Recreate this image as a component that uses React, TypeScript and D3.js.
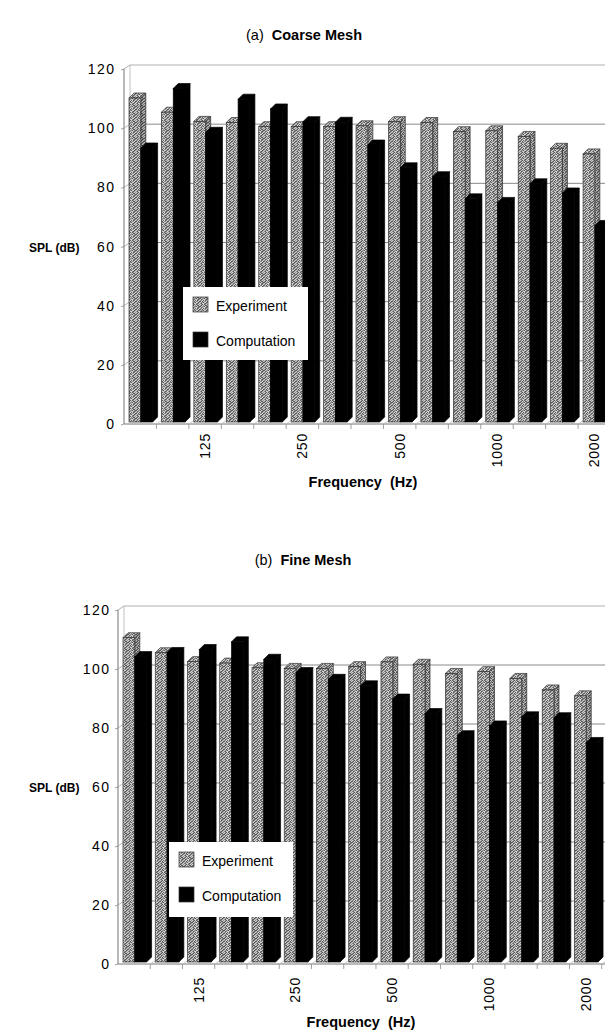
import React from "react";
import * as d3 from "d3";

// 1/3-octave band centre frequencies (Hz)
const categories = ["80", "100", "125", "160", "200", "250", "315", "400", "500", "630", "800", "1000", "1250", "1600", "2000"];
const shownTickLabels = ["125", "250", "500", "1000", "2000"];
const yTicks = [0, 20, 40, 60, 80, 100, 120];
const seriesNames = ["Experiment", "Computation"];

// (a) Coarse mesh, SPL (dB)
const coarseExperiment = [110.2, 105.4, 102.3, 101.9, 100.5, 100.5, 100.5, 100.8, 102.2, 101.9, 98.8, 99.1, 97.2, 93.2, 91.3];
const coarseComputation = [93.3, 113.4, 98.6, 109.8, 106.5, 102.2, 102.0, 94.3, 86.6, 83.6, 76.1, 74.9, 81.2, 78.1, 67.1];

// (b) Fine mesh, SPL (dB)
const fineExperiment = [110.6, 105.5, 102.5, 102.0, 100.4, 100.2, 100.2, 100.8, 102.4, 101.6, 98.5, 99.1, 96.8, 92.9, 90.9];
const fineComputation = [104.2, 105.6, 106.6, 109.2, 103.3, 98.8, 96.5, 94.3, 89.8, 84.9, 77.4, 80.7, 83.8, 83.5, 75.1];

const FONT = "'Liberation Sans', Arial, Helvetica, sans-serif";

// fixed stipple tile for the "Experiment" texture
const TILE = ["01202101", "12010220", "20112012", "02100121", "11020210", "20201102", "01120021", "12001210"];
const TILE_COLORS = ["#d2d2d2", "#8e8e8e", "#575757"];

function Stipple({ id }: { id: string }) {
  return (
    <pattern id={id} patternUnits="userSpaceOnUse" width={8} height={8}>
      {TILE.map((row, r) =>
        row.split("").map((c, k) => (
          <rect key={r + "-" + k} x={k} y={r} width={1} height={1} fill={TILE_COLORS[+c]} />
        ))
      )}
    </pattern>
  );
}

type ChartProps = {
  tag: string;
  name: string;
  exp: number[];
  comp: number[];
  xRange: [number, number];
  yRange: [number, number];
  titleY: number;
  titleX: number;
  tickRight: number;
  splY: number;
  freqX: number;
  freqY: number;
  tickLabelY: number;
  legend: { x: number; y: number; w: number; h: number };
  plotRight: number;
};

function Chart(p: ChartProps) {
  const x = d3.scaleBand<string>().domain(categories).range(p.xRange).paddingInner(0).paddingOuter(0);
  const y = d3.scaleLinear().domain([0, 120]).range(p.yRange);
  const bw = x.bandwidth();
  const DX = 6; // wall depth
  const DY = 4;
  const bdx = 5; // bar depth
  const bdy = 5;
  const barW = 11.8;
  const barOff = 5;
  const left = p.xRange[0];
  const floorY = y(0);
  const barBottom = floorY - 2;

  const bar = (xs: number, v: number, fill: string, stroke: string, key: string, side?: string) => {
    const top = y(v);
    const topFace = `M${xs},${top}L${xs + bdx},${top - bdy}L${xs + barW + bdx},${top - bdy}L${xs + barW},${top}Z`;
    const sideFace = `M${xs + barW},${top}L${xs + barW + bdx},${top - bdy}L${xs + barW + bdx},${barBottom - bdy}L${xs + barW},${barBottom}Z`;
    return (
      <g key={key}>
        <path d={sideFace} fill={fill} stroke={stroke} strokeWidth={0.7} />
        {side && <path d={sideFace} fill={side} />}
        <path d={topFace} fill={fill} stroke={stroke} strokeWidth={0.7} />
        <rect x={xs} y={top} width={barW} height={barBottom - top} fill={fill} stroke={stroke} strokeWidth={0.7} />
      </g>
    );
  };

  return (
    <g>
      {/* title */}
      <text x={p.titleX} y={p.titleY} textAnchor="middle" fontFamily={FONT} fontSize={14.5}>
        <tspan>{p.tag}</tspan>
        <tspan dx={8} fontWeight="bold">{p.name}</tspan>
      </text>

      {/* back wall & left wall frame */}
      <line x1={left + DX} y1={y(120) - DY} x2={p.plotRight} y2={y(120) - DY} stroke="#b0b0b0" strokeWidth={1} />
      <line x1={left + DX} y1={y(120) - DY} x2={left + DX} y2={floorY - DY} stroke="#c0c0c0" strokeWidth={1} />
      {yTicks.filter((t) => t > 0 && t < 120).map((t) => (
        <g key={"g" + t}>
          <line x1={left} y1={y(t)} x2={left + DX} y2={y(t) - DY} stroke="#aaa" strokeWidth={0.8} />
          <line x1={left + DX} y1={y(t) - DY} x2={p.plotRight} y2={y(t) - DY} stroke="#8a8a8a" strokeWidth={1} />
        </g>
      ))}
      <line x1={left} y1={y(120)} x2={left + DX} y2={y(120) - DY} stroke="#999" strokeWidth={0.8} />

      {/* front value axis */}
      <line x1={left} y1={y(120)} x2={left} y2={floorY} stroke="#8a8a8a" strokeWidth={1.2} />
      {yTicks.map((t) => (
        <g key={"t" + t}>
          <line x1={left - 3} y1={y(t) + 1} x2={left} y2={y(t)} stroke="#888" strokeWidth={0.8} />
          <text x={p.tickRight} y={y(t) + 5} textAnchor="end" fontFamily={FONT} fontSize={14} letterSpacing={1.5}>
            {t}
          </text>
        </g>
      ))}

      {/* floor */}
      <line x1={left} y1={floorY} x2={p.plotRight} y2={floorY} stroke="#777" strokeWidth={1} />
      {categories.map((c) => {
        const xe = (x(c) as number) + bw;
        return (
          <g key={"f" + c}>
            <line x1={xe} y1={floorY} x2={xe} y2={floorY + 5} stroke="#888" strokeWidth={0.8} />
            <line x1={xe} y1={floorY} x2={xe + DX} y2={floorY - DY} stroke="#bbb" strokeWidth={0.8} />
          </g>
        );
      })}

      {/* bars */}
      {categories.map((c, i) => {
        const x0 = (x(c) as number) + barOff;
        return (
          <g key={"b" + c}>
            {bar(x0, p.exp[i], "url(#stip)", "#333", "e", "rgba(0,0,0,0.12)")}
            {bar(x0 + barW, p.comp[i], "#000", "#000", "c")}
          </g>
        );
      })}

      {/* category labels */}
      {categories.map((c) =>
        shownTickLabels.includes(c) ? (
          <text
            key={"l" + c}
            transform={`translate(${(x(c) as number) + bw / 2 + 5},${p.tickLabelY}) rotate(-90)`}
            textAnchor="end"
            fontFamily={FONT}
            fontSize={14}
            letterSpacing={0.8}
          >
            {c}
          </text>
        ) : null
      )}

      {/* axis titles */}
      <text x={29} y={p.splY} fontFamily={FONT} fontSize={12} fontWeight="bold">SPL (dB)</text>
      <text x={p.freqX} y={p.freqY} textAnchor="middle" fontFamily={FONT} fontSize={14.5} fontWeight="bold" xmlSpace="preserve">
        {"Frequency  (Hz)"}
      </text>

      {/* legend */}
      <rect x={p.legend.x} y={p.legend.y} width={p.legend.w} height={p.legend.h} fill="#fff" />
      {seriesNames.map((s, k) => {
        const sy = p.legend.y + 10 + k * 35;
        return (
          <g key={"lg" + s}>
            <rect x={p.legend.x + 10} y={sy} width={15} height={15} fill={k === 0 ? "url(#stip)" : "#000"} stroke="#333" strokeWidth={0.7} />
            <text x={p.legend.x + 33} y={sy + 14} fontFamily={FONT} fontSize={14}>{s}</text>
          </g>
        );
      })}
    </g>
  );
}

export default function App() {
  return (
    <svg width={605} height={1032} style={{ position: "absolute", left: 0, top: 0, background: "#fff" }}>
      <defs>
        <Stipple id="stip" />
      </defs>
      <rect width={605} height={1032} fill="#fff" />
      <Chart
        tag="(a)"
        name="Coarse Mesh"
        exp={coarseExperiment}
        comp={coarseComputation}
        xRange={[124, 610.5]}
        yRange={[424, 69]}
        titleY={40}
        titleX={304}
        tickRight={115.5}
        splY={252}
        freqX={363}
        freqY={487}
        tickLabelY={433}
        legend={{ x: 183, y: 287, w: 125, h: 73 }}
        plotRight={605}
      />
      <Chart
        tag="(b)"
        name="Fine Mesh"
        exp={fineExperiment}
        comp={fineComputation}
        xRange={[118, 601.7]}
        yRange={[964, 610]}
        titleY={565}
        titleX={303}
        tickRight={110.5}
        splY={792}
        freqX={361}
        freqY={1027}
        tickLabelY={977}
        legend={{ x: 169, y: 842, w: 124, h: 75 }}
        plotRight={605}
      />
    </svg>
  );
}
